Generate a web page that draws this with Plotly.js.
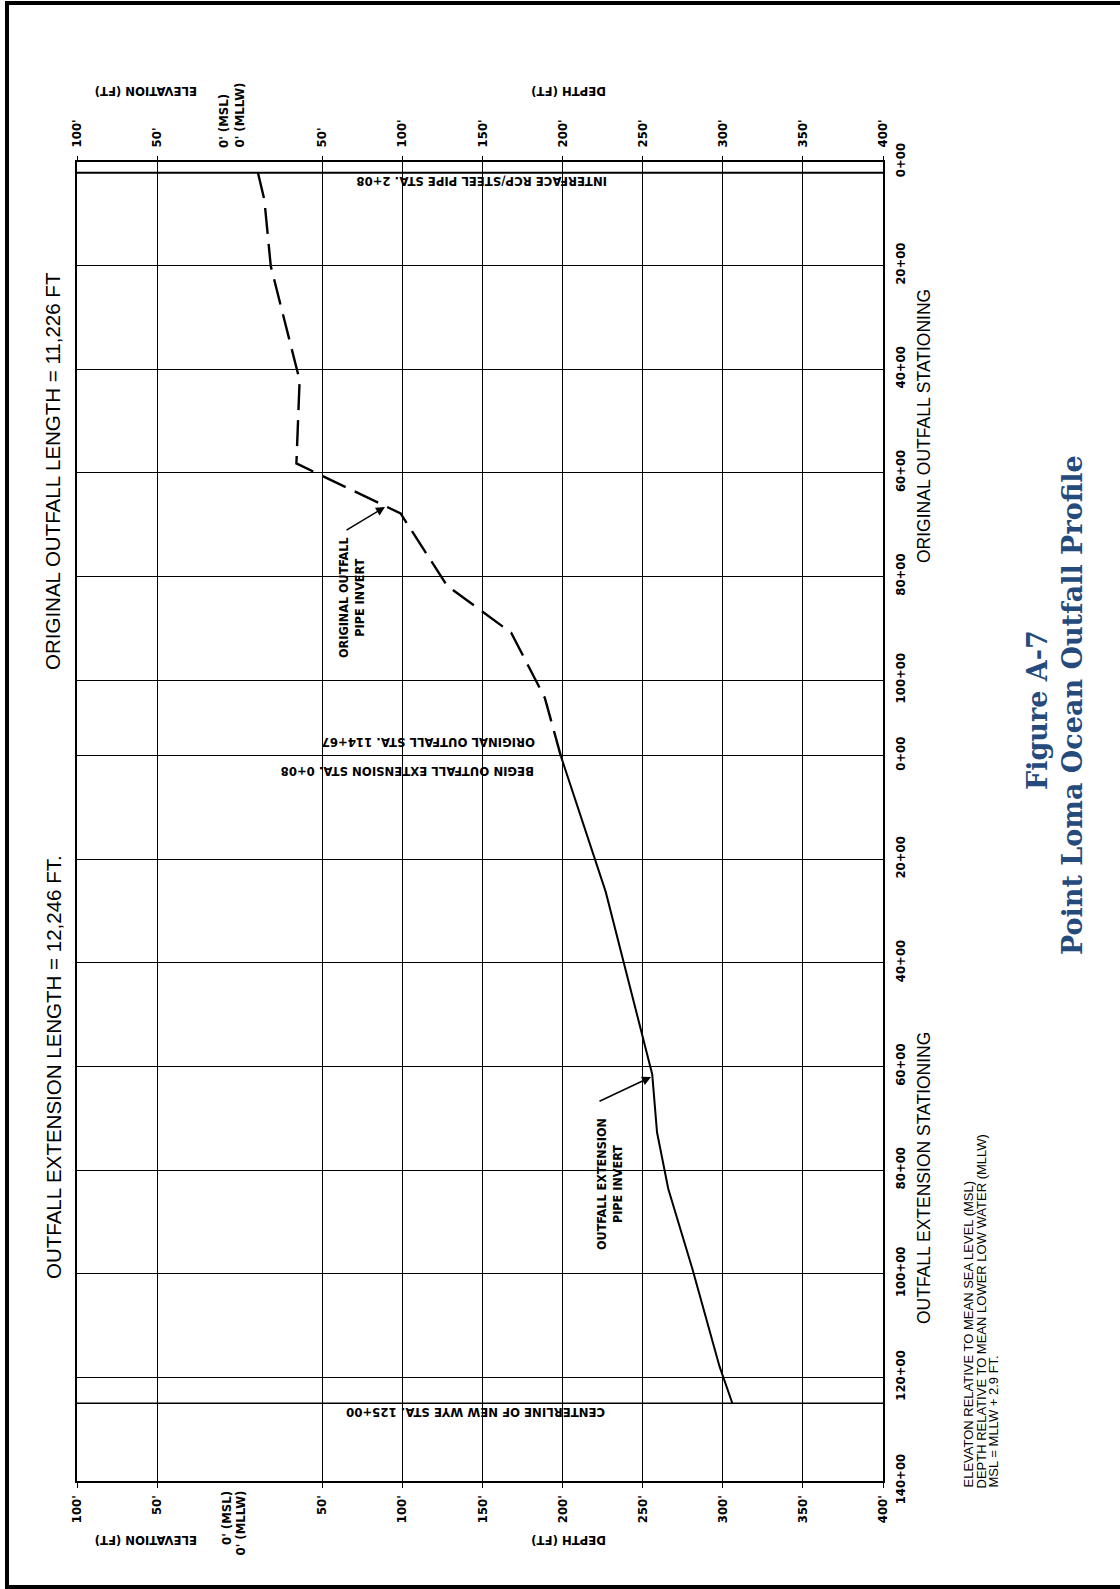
<!DOCTYPE html>
<html><head><meta charset="utf-8">
<script src="https://cdn.plot.ly/plotly-3.0.1.min.js"></script>
<style>html,body{margin:0;padding:0;background:#fff}</style>
</head><body><div id="chart" style="width:1120px;height:1589px"></div>
<script>
// ---------------- DATA ----------------
// Original outfall pipe invert (original stationing, ft) and depth below MLLW (ft)
const origStation = [208, 730, 2010, 4213, 5818, 6784, 8177, 9086, 10343, 11467];
const origDepth   = [10, 14, 18, 36, 34, 99, 128, 168, 189, 199];
// Outfall extension pipe invert (extension stationing, ft) and depth (ft)
const extStation = [8, 2629, 6148, 7269, 8360, 9898, 11788, 12500];
const extDepth   = [199, 227, 256, 259, 266, 281, 298, 306];
// Extension STA 0+08 = original STA 114+67
const EXT_OFFSET = 11459;
const MSL_ABOVE_MLLW = 2.9;
const elevTicks  = [100, 50];
const depthTicks = [50, 100, 150, 200, 250, 300, 350, 400];
const origStaTicks = [0, 2000, 4000, 6000, 8000, 10000];
const extStaTicks  = [0, 2000, 4000, 6000, 8000, 10000, 12000, 14000];
const interfaceSta = 208;     // original stationing
const wyeSta = 12500;         // extension stationing

// ---------------- LAYOUT HELPERS ----------------
const PL = 77, PR = 883, PT = 162, PB = 1481;
const px = x => (x - PL) / (PR - PL);
const py = y => (PB - y) / (PB - PT);
const NARROW = "'Liberation Sans Narrow','Arial Narrow','DejaVu Sans Condensed',sans-serif";
const SANS = "'Liberation Sans',Arial,sans-serif";
const SERIF = "'DejaVu Serif',serif";
const BLUE = '#254a7c';

const xTickVals = elevTicks.map(e => -(e + MSL_ABOVE_MLLW)).concat(depthTicks);
const xTickText = elevTicks.map(e => e + "'").concat(depthTicks.map(d => d + "'"));
const yTickVals = origStaTicks.concat(extStaTicks.map(s => s + EXT_OFFSET));
const yTickText = origStaTicks.map(s => (s / 100) + '+00').concat(extStaTicks.map(s => (s / 100) + '+00'));

const traces = [
  {x: origDepth, y: origStation, mode: 'lines', line: {color: '#000', width: 2.4, dash: '26px,10px'}, hoverinfo: 'skip'},
  {x: extDepth, y: extStation.map(s => s + EXT_OFFSET), mode: 'lines', line: {color: '#000', width: 2}, hoverinfo: 'skip'},
  {x: [null], y: [null], xaxis: 'x2', mode: 'lines', hoverinfo: 'skip'}
];

const tickFont = {family: NARROW, size: 13, color: '#000', weight: 'bold'};
const lblFont = {family: NARROW, size: 13, color: '#000', weight: 'bold'};

function ann(text, x, y, angle, font, extra) {
  return Object.assign({text: text, x: px(x), y: py(y), xref: 'paper', yref: 'paper',
    showarrow: false, textangle: angle, font: font, xanchor: 'center', yanchor: 'middle'}, extra || {});
}

const annotations = [
  // axis headers (upside down)
  ann('ELEVATION (FT)', 146, 91, 180, lblFont),
  ann('DEPTH (FT)', 569, 91, 180, lblFont),
  ann('ELEVATION (FT)', 146, 1541, 180, lblFont),
  ann('DEPTH (FT)', 569, 1541, 180, lblFont),
  // zero labels
  ann("0' (MSL)", 224, 150, -90, tickFont, {yanchor: 'bottom'}),
  ann("0' (MLLW)", 239, 150, -90, tickFont, {yanchor: 'bottom'}),
  ann("0' (MSL)", 226, 1489, -90, tickFont, {yanchor: 'top'}),
  ann("0' (MLLW)", 240, 1489, -90, tickFont, {yanchor: 'top'}),
  // left titles
  ann('ORIGINAL OUTFALL LENGTH = 11,226 FT', 53, 471, -90, {family: SANS, size: 20.5, color: '#000'}),
  ann('OUTFALL EXTENSION LENGTH = 12,246 FT.', 53, 1067, -90, {family: SANS, size: 20.5, color: '#000'}),
  // stationing titles
  ann('ORIGINAL OUTFALL STATIONING', 924, 426, -90, {family: SANS, size: 17.5, color: '#000'}),
  ann('OUTFALL EXTENSION STATIONING', 924, 1178, -90, {family: SANS, size: 17.5, color: '#000'}),
  // in-plot labels
  ann('INTERFACE RCP/STEEL PIPE STA. 2+08', 481, 182, 180, lblFont),
  ann('ORIGINAL OUTFALL STA. 114+67', 429, 743, 180, lblFont),
  ann('BEGIN OUTFALL EXTENSION STA. 0+08', 408, 772, 180, lblFont),
  ann('CENTERLINE OF NEW WYE STA. 125+00', 476, 1413, 180, lblFont),
  ann('ORIGINAL OUTFALL<br>PIPE INVERT', 351, 598, -90, {family: NARROW, size: 12.5, color: '#000', weight: 'bold'}),
  ann('OUTFALL EXTENSION<br>PIPE INVERT', 609, 1184, -90, {family: NARROW, size: 12.5, color: '#000', weight: 'bold'}),
  // leader arrows
  {text: '', x: px(385), y: py(507), xref: 'paper', yref: 'paper', showarrow: true, ax: -40, ay: 24,
   arrowhead: 2, arrowsize: 1.2, arrowwidth: 1.5, arrowcolor: '#000', standoff: 0, startstandoff: 0},
  {text: '', x: px(651), y: py(1077), xref: 'paper', yref: 'paper', showarrow: true, ax: -53, ay: 25,
   arrowhead: 2, arrowsize: 1.2, arrowwidth: 1.5, arrowcolor: '#000', standoff: 0, startstandoff: 0},
  // figure title
  ann('Figure A-7', 1037, 710, -90, {family: SERIF, size: 27, color: BLUE, weight: 'bold'}),
  ann('Point Loma Ocean Outfall Profile', 1072, 705, -90, {family: SERIF, size: 27, color: BLUE, weight: 'bold'}),
  // notes
  ann('ELEVATON RELATIVE TO MEAN SEA LEVEL (MSL)', 968, 1490, -90, {family: SANS, size: 13, color: '#000'}, {yanchor: 'bottom'}),
  ann('DEPTH RELATIVE TO MEAN LOWER LOW WATER (MLLW)', 980.5, 1490, -90, {family: SANS, size: 13, color: '#000'}, {yanchor: 'bottom'}),
  ann('MSL = MLLW + 2.9 FT.', 992.5, 1490, -90, {family: SANS, size: 13, color: '#000'}, {yanchor: 'bottom'})
];

const shapes = [
  {type: 'line', xref: 'paper', x0: 0, x1: 1, yref: 'y', y0: interfaceSta, y1: interfaceSta, line: {color: '#000', width: 2}},
  {type: 'line', xref: 'paper', x0: 0, x1: 1, yref: 'y', y0: wyeSta + EXT_OFFSET, y1: wyeSta + EXT_OFFSET, line: {color: '#000', width: 1.6}},
  // page border
  {type: 'rect', xref: 'paper', yref: 'paper', x0: px(7), x1: px(1135), y0: py(3), y1: py(1587), line: {color: '#000', width: 4}}
];

const layout = {
  width: 1120, height: 1589, autosize: false,
  margin: {l: PL, r: 1120 - PR, t: PT, b: 1589 - PB, pad: 0},
  paper_bgcolor: '#fff', plot_bgcolor: '#fff', showlegend: false,
  xaxis: {range: [-(100 + MSL_ABOVE_MLLW), 400], tickvals: xTickVals, ticktext: xTickText, tickangle: -90,
    showgrid: true, gridcolor: '#000', gridwidth: 1, zeroline: false, showline: true, mirror: true,
    linecolor: '#000', linewidth: 2, ticks: 'outside', ticklen: 5, tickcolor: '#000', tickwidth: 1,
    tickfont: tickFont, ticklabelstandoff: 2, fixedrange: true},
  xaxis2: {overlaying: 'x', side: 'top', range: [-(100 + MSL_ABOVE_MLLW), 400], tickvals: xTickVals, ticktext: xTickText,
    tickangle: -90, showgrid: false, zeroline: false, showline: false, ticks: 'outside', ticklen: 5, tickcolor: '#000',
    tickfont: tickFont, ticklabelstandoff: 6, fixedrange: true},
  yaxis: {range: [EXT_OFFSET + 14000, 0], side: 'right', tickvals: yTickVals, ticktext: yTickText, tickangle: -90,
    showgrid: true, gridcolor: '#000', gridwidth: 1, zeroline: false, showline: true, mirror: true,
    linecolor: '#000', linewidth: 2, ticks: '', tickfont: tickFont, ticklabelstandoff: 4, fixedrange: true},
  annotations: annotations,
  shapes: shapes
};

Plotly.newPlot('chart', traces, layout, {displayModeBar: false, staticPlot: true});
</script></body></html>
